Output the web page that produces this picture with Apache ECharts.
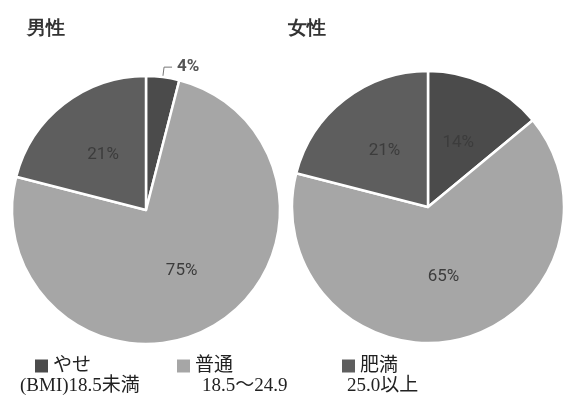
<!DOCTYPE html>
<html>
<head>
<meta charset="utf-8">
<script src="https://cdn.jsdelivr.net/npm/echarts@6/dist/echarts.min.js"></script>
<style>
  html, body { margin: 0; padding: 0; background: #fff; }
  #main { width: 566px; height: 412px; }
</style>
</head>
<body>
<div id="main"></div>
<script>
// BMI区分ごとの割合（%）
const categories = ['やせ', '普通', '肥満'];
const subLabels = ['(BMI)18.5未満', '18.5〜24.9', '25.0以上'];
const maleValues = [4, 75, 21];
const femaleValues = [14, 65, 21];
const groups = ['男性', '女性'];

const colors = ['#4b4b4b', '#a6a6a6', '#5e5e5e'];
const serif = '"Liberation Serif", "Noto Sans CJK JP", serif';

const chart = echarts.init(document.getElementById('main'), null, { renderer: 'canvas' });

function pieData(values, outsideIdx) {
    return values.map(function (v, i) {
        const item = {
            name: categories[i],
            value: v,
            itemStyle: { color: colors[i] }
        };
        if (i === outsideIdx) {
            item.label = {
                position: 'outside',
                color: '#555',
                fontSize: 17,
                fontWeight: 'bold'
            };
            item.labelLine = { show: true, length: 10, length2: 8, lineStyle: { color: '#777', width: 1 } };
        } else {
            item.labelLine = { show: false };
        }
        return item;
    });
}

function pieSeries(name, values, center, radius, outsideIdx) {
    return {
        name: name,
        type: 'pie',
        center: center,
        radius: radius,
        startAngle: 90,
        clockwise: true,
        silent: true,
        animation: false,
        itemStyle: { borderColor: '#fff', borderWidth: 2.5 },
        label: {
            show: true,
            position: 'inside',
            formatter: '{c}%',
            color: '#3c3c3c',
            fontSize: 17,
            fontFamily: 'Roboto, sans-serif'
        },
        data: pieData(values, outsideIdx)
    };
}

const legendLeft = [35, 177, 342];
const legends = categories.map(function (c, i) {
    return {
        data: [c],
        left: legendLeft[i],
        top: 356,
        padding: 0,
        itemWidth: 13,
        itemHeight: 13,
        icon: 'rect',
        itemStyle: { borderWidth: 0 },
        textStyle: { fontSize: 19, lineHeight: 20, color: '#222', fontFamily: serif },
        selectedMode: false
    };
});

const subX = [20, 202, 347];
const graphics = subLabels.map(function (t, i) {
    return {
        type: 'text',
        left: subX[i],
        top: 377,
        style: { text: t, fill: '#222', font: '19px ' + serif }
    };
});

const option = {
    backgroundColor: '#fff',
    title: [
        { text: groups[0], left: 22, top: 14, textStyle: { fontSize: 19, fontWeight: 'bold', color: '#333' } },
        { text: groups[1], left: 283, top: 14, textStyle: { fontSize: 19, fontWeight: 'bold', color: '#333' } }
    ],
    legend: legends,
    graphic: graphics,
    series: [
        pieSeries(groups[0], maleValues, [146, 210], 134, 0),
        pieSeries(groups[1], femaleValues, [428, 207], 136, -1)
    ]
};

chart.setOption(option);
</script>
</body>
</html>
